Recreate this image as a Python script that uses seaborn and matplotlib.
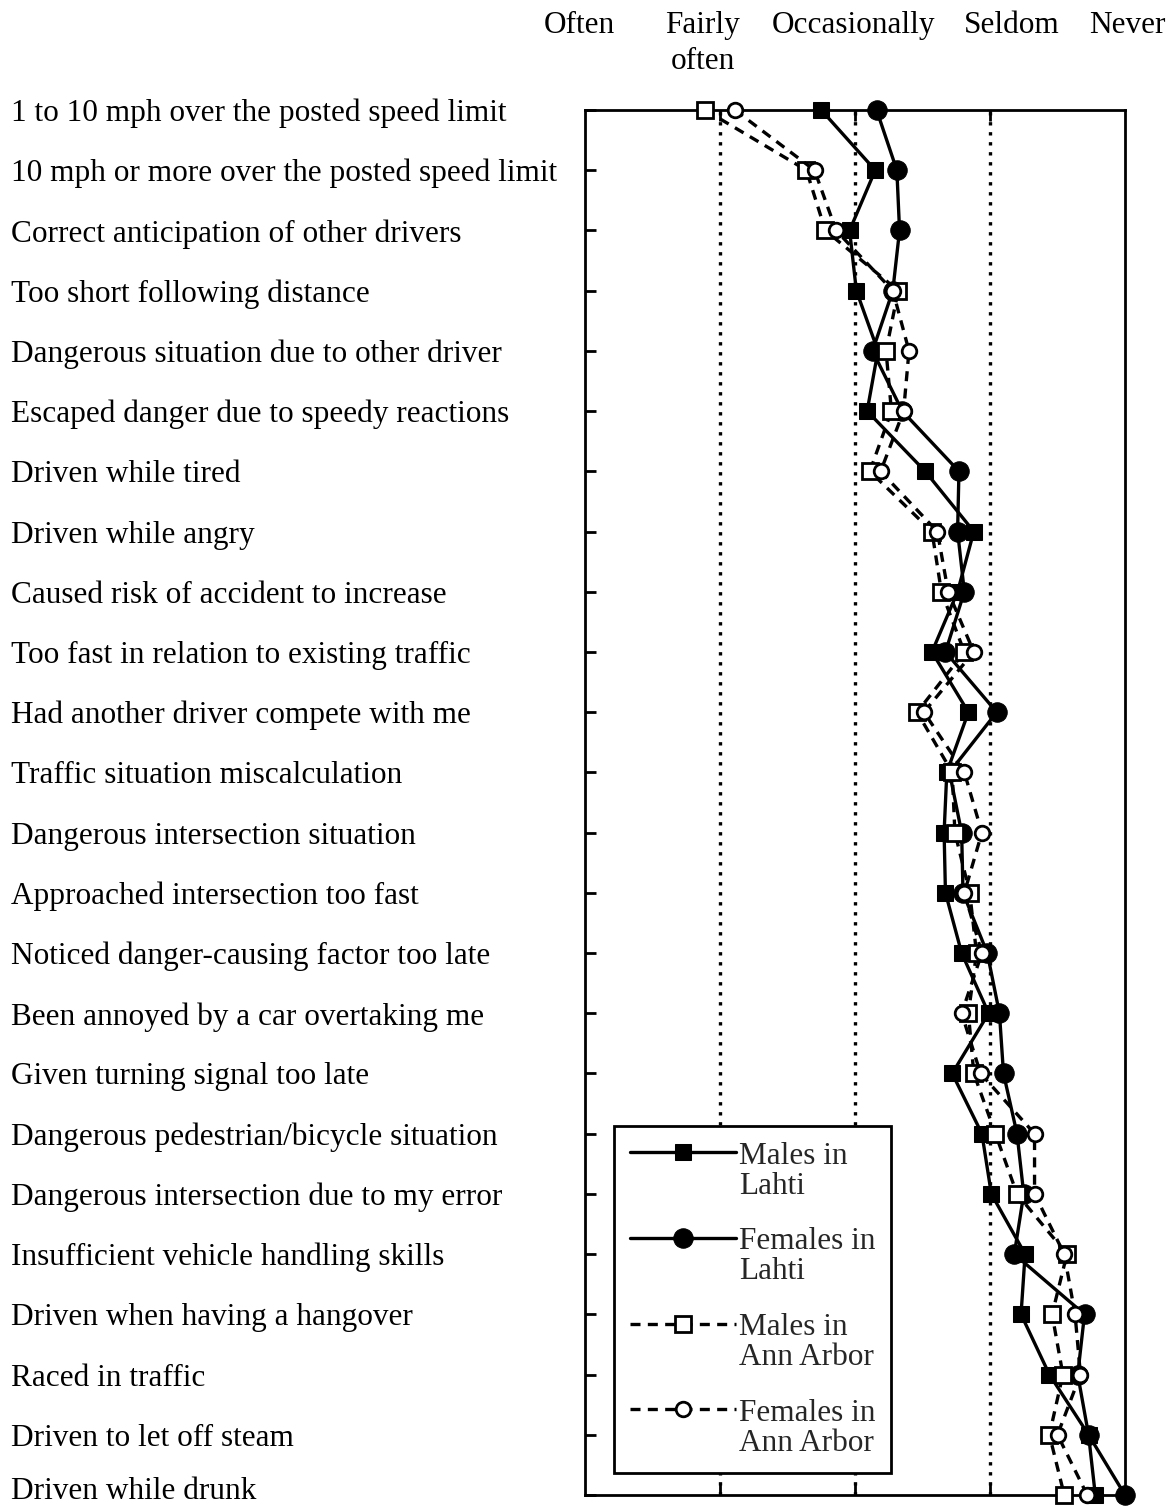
########################################################
# Required Python Packages
########################################################
import numpy as np
import pandas as pd
import seaborn as sns
import matplotlib.pyplot as plt
from matplotlib.legend_handler import HandlerLine2D
from matplotlib.transforms import blended_transform_factory

########################################################
# Data
# x scale: 1 = Often ... 5 = Never
########################################################
ITEMS = [
    "1 to 10 mph over the posted speed limit",
    "10 mph or more over the posted speed limit",
    "Correct anticipation of other drivers",
    "Too short following distance",
    "Dangerous situation due to other driver",
    "Escaped danger due to speedy reactions",
    "Driven while tired",
    "Driven while angry",
    "Caused risk of accident to increase",
    "Too fast in relation to existing traffic",
    "Had another driver compete with me",
    "Traffic situation miscalculation",
    "Dangerous intersection situation",
    "Approached intersection too fast",
    "Noticed danger-causing factor too late",
    "Been annoyed by a car overtaking me",
    "Given turning signal too late",
    "Dangerous pedestrian/bicycle situation",
    "Dangerous intersection due to my error",
    "Insufficient vehicle handling skills",
    "Driven when having a hangover",
    "Raced in traffic",
    "Driven to let off steam",
    "Driven while drunk",
]

FREQ_TICKS = [1, 2, 3, 4, 5]
FREQ_LABELS = ["Often", "Fairly\noften", "Occasionally", "Seldom", "Never"]

MALES_LAHTI = [2.75, 3.15, 2.96, 3.01, 3.17, 3.09, 3.52, 3.88, 3.76, 3.57, 3.84, 3.68,
               3.66, 3.67, 3.79, 3.99, 3.72, 3.94, 4.01, 4.26, 4.23, 4.44, 4.73, 4.78]
FEMALES_LAHTI = [3.16, 3.31, 3.33, 3.28, 3.13, 3.35, 3.77, 3.76, 3.81, 3.67, 4.05, 3.70,
                 3.79, 3.80, 3.98, 4.07, 4.10, 4.20, 4.25, 4.18, 4.70, 4.65, 4.73, 5.00]
MALES_ANN_ARBOR = [1.89, 2.64, 2.78, 3.32, 3.23, 3.27, 3.11, 3.57, 3.64, 3.81, 3.46, 3.72,
                   3.74, 3.85, 3.90, 3.84, 3.88, 4.04, 4.20, 4.57, 4.46, 4.54, 4.44, 4.55]
FEMALES_ANN_ARBOR = [2.11, 2.70, 2.86, 3.28, 3.40, 3.36, 3.19, 3.61, 3.69, 3.88, 3.51, 3.81,
                     3.94, 3.81, 3.94, 3.79, 3.93, 4.33, 4.33, 4.55, 4.63, 4.67, 4.50, 4.72]

SERIES = [
    ("Males in\nLahti", MALES_LAHTI),
    ("Females in\nLahti", FEMALES_LAHTI),
    ("Males in\nAnn Arbor", MALES_ANN_ARBOR),
    ("Females in\nAnn Arbor", FEMALES_ANN_ARBOR),
]

# line / marker style per series
STYLES = {
    "Males in\nLahti": dict(marker="s", markersize=12, markerfacecolor="black",
                            linestyle="-", linewidth=2.4),
    "Females in\nLahti": dict(marker="o", markersize=14, markerfacecolor="black",
                              linestyle="-", linewidth=2.4),
    "Males in\nAnn Arbor": dict(marker="s", markersize=11, markerfacecolor="white",
                                markeredgewidth=2.0, linestyle=(0, (3, 2.2)), linewidth=2.4),
    "Females in\nAnn Arbor": dict(marker="o", markersize=10.5, markerfacecolor="white",
                                  markeredgewidth=2.0, linestyle=(0, (3, 2.2)), linewidth=2.4),
}

FONT = "Liberation Serif"
FS = 22.5


########################################################
# Legend handler: put the handle on the first text line
########################################################
class FirstLineHandler(HandlerLine2D):
    def create_artists(self, legend, orig_handle, xdescent, ydescent,
                       width, height, fontsize, trans):
        arts = super().create_artists(legend, orig_handle, xdescent, ydescent,
                                      width, height, fontsize, trans)
        for a in arts:
            a.set_ydata(np.asarray(a.get_ydata()) + 0.6 * fontsize)
        return arts


def main():
    sns.set_theme(style="white")
    plt.rcParams["font.family"] = [FONT, "DejaVu Serif"]

    rows = []
    for name, vals in SERIES:
        for i, v in enumerate(vals):
            rows.append({"group": name, "row": i, "freq": v})
    df = pd.DataFrame(rows)

    fig = plt.figure(figsize=(11.76, 15.06), dpi=100)
    ax = fig.add_axes([585 / 1176, 1 - 1495 / 1506, 540 / 1176, 1385 / 1506])

    # dotted reference lines
    for x in FREQ_TICKS[1:4]:
        ax.axvline(x, color="black", linestyle=(0, (1, 2)), linewidth=2.4, zorder=1)

    for name, _ in SERIES:
        sub = df[df["group"] == name]
        st = STYLES[name]
        sns.lineplot(data=sub, x="freq", y="row", orient="y", ax=ax,
                     color="black", markeredgecolor="black", clip_on=False,
                     label=name, errorbar=None, zorder=3, **st)

    ax.set_xlim(1, 5)
    ax.set_ylim(len(ITEMS) - 1, 0)
    ax.set_xlabel("")
    ax.set_ylabel("")

    for s in ax.spines.values():
        s.set_color("black")
        s.set_linewidth(2.0)

    ax.set_yticks(range(len(ITEMS)))
    ax.set_yticklabels([])
    ax.set_xticks(FREQ_TICKS[1:4])
    ax.set_xticklabels([])
    ax.tick_params(axis="y", direction="in", length=8, width=2, left=True, color="black")
    ax.tick_params(axis="x", direction="in", length=8, width=2, bottom=True, top=True,
                   color="black")

    # item labels, left aligned at figure edge (last one lifted so it is not cut)
    tr = blended_transform_factory(fig.transFigure, ax.transData)
    for i, lab in enumerate(ITEMS):
        ax.text(11 / 1176, min(i, len(ITEMS) - 1.12), lab, transform=tr,
                ha="left", va="center_baseline",
                fontsize=FS, family=FONT, color="black")

    # frequency labels across the top
    nudge = [-0.04, -0.13, -0.01, 0.16, 0.02]
    trx = blended_transform_factory(ax.transData, fig.transFigure)
    for x, lab, dx in zip(FREQ_TICKS, FREQ_LABELS, nudge):
        ax.text(x + dx, 1 - 11 / 1506, lab, transform=trx, ha="center", va="top",
                fontsize=FS, family=FONT, linespacing=1.3, color="black")

    handles, labels = ax.get_legend_handles_labels()
    leg = ax.legend(handles, labels, loc="upper left",
                    bbox_to_anchor=(614 / 1176, 1 - 1126 / 1506),
                    bbox_transform=fig.transFigure, borderaxespad=0,
                    frameon=True, fancybox=False, edgecolor="black", framealpha=1,
                    handlelength=3.4, handletextpad=0.1, labelspacing=0.85,
                    borderpad=0.5, prop={"family": FONT, "size": FS},
                    handler_map={h: FirstLineHandler() for h in handles})
    leg.get_frame().set_linewidth(2.0)
    leg.set_zorder(5)
    for t in leg.get_texts():
        t.set_linespacing(1.05)

    fig.savefig("out.png", dpi=100, facecolor="white")


if __name__ == "__main__":
    main()
